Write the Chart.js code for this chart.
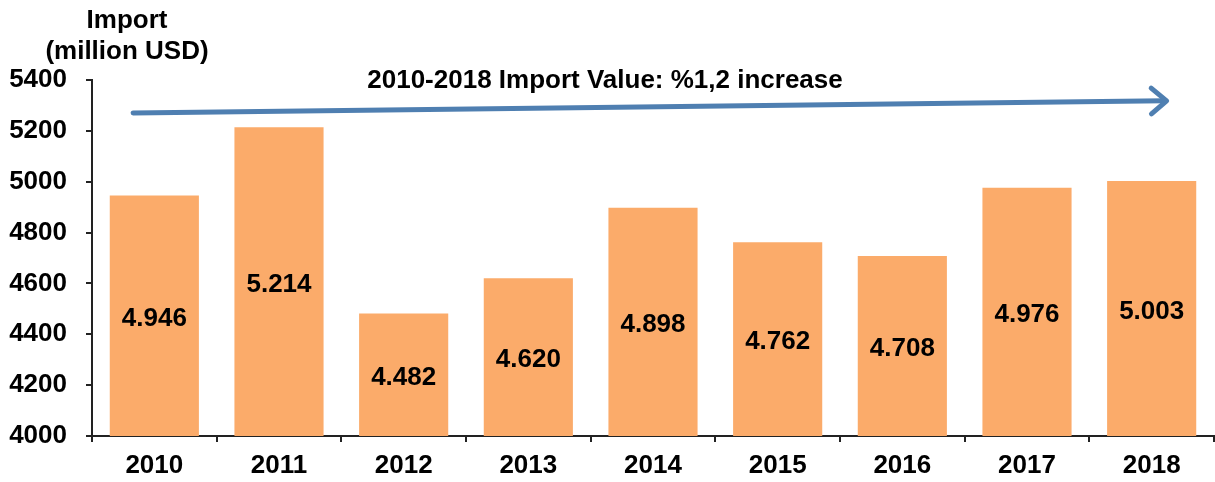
<!DOCTYPE html>
<html>
<head>
<meta charset="utf-8">
<script src="https://cdn.jsdelivr.net/npm/chart.js@4/dist/chart.umd.min.js"></script>
<style>
  html, body { margin: 0; padding: 0; background: #fff; }
  #wrap { width: 1215px; height: 482px; }
</style>
</head>
<body>
<div id="wrap"><canvas id="chart"></canvas></div>
<script>
// Import values (million USD), 2010-2018
const years   = ['2010', '2011', '2012', '2013', '2014', '2015', '2016', '2017', '2018'];
const imports = [4946, 5214, 4482, 4620, 4898, 4762, 4708, 4976, 5003];

const yTicks    = [4000, 4200, 4400, 4600, 4800, 5000, 5200, 5400];
const axisTitle = ['Import', '(million USD)'];
const trendText = '2010-2018 Import Value: %1,2 increase';
// trend arrow: [category index, value]
const arrowFrom = [-0.17, 5270];
const arrowTo   = [8.12, 5318];

const FONT = '"Liberation Sans", Arial, sans-serif';
const BAR  = '#fbab6a';
const BLUE = '#4f7fb1';
const INK  = '#000';

const fmt = v => (v / 1000).toFixed(3);

// values in the middle of each bar + the trend arrow and the titles
const decorations = {
  id: 'decorations',
  afterDatasetsDraw(chart) {
    const { ctx, scales: { x, y }, chartArea } = chart;
    ctx.save();

    ctx.font = `bold 26px ${FONT}`;
    ctx.fillStyle = INK;
    ctx.textAlign = 'center';
    ctx.textBaseline = 'middle';
    imports.forEach((v, i) => {
      const cy = (y.getPixelForValue(v) + y.getPixelForValue(yTicks[0])) / 2 + 3;
      ctx.fillText(fmt(v), x.getPixelForValue(i), cy);
    });

    // arrow
    const step = x.getPixelForValue(1) - x.getPixelForValue(0);
    const x0 = x.getPixelForValue(0) + arrowFrom[0] * step;
    const x1 = x.getPixelForValue(0) + arrowTo[0] * step;
    const y0 = y.getPixelForValue(arrowFrom[1]);
    const y1 = y.getPixelForValue(arrowTo[1]);
    const ang = Math.atan2(y1 - y0, x1 - x0);
    ctx.strokeStyle = BLUE;
    ctx.lineWidth = 5;
    ctx.lineCap = 'round';
    ctx.lineJoin = 'round';
    ctx.beginPath();
    ctx.moveTo(x0, y0);
    ctx.lineTo(x1 - 2, y1);
    ctx.stroke();
    ctx.beginPath();
    ctx.moveTo(x1 - 20 * Math.cos(ang - 0.7), y1 - 20 * Math.sin(ang - 0.7));
    ctx.lineTo(x1, y1);
    ctx.lineTo(x1 - 20 * Math.cos(ang + 0.7), y1 - 20 * Math.sin(ang + 0.7));
    ctx.stroke();

    // trend label
    ctx.fillStyle = INK;
    ctx.fillText(trendText, (chartArea.left + chartArea.right) / 2 - 48, y.getPixelForValue(5400) + 1);

    // axis title
    ctx.fillText(axisTitle[0], 127, 21);
    ctx.fillText(axisTitle[1], 127, 52);

    ctx.restore();
  }
};

new Chart(document.getElementById('chart'), {
  type: 'bar',
  data: {
    labels: years,
    datasets: [{
      data: imports,
      backgroundColor: BAR,
      borderWidth: 0,
      categoryPercentage: 0.715,
      barPercentage: 1,
    }],
  },
  options: {
    responsive: true,
    maintainAspectRatio: false,
    animation: false,
    layout: { padding: { top: 80, right: 1, left: 0, bottom: 0 } },
    plugins: {
      legend: { display: false },
      tooltip: { enabled: false },
    },
    scales: {
      x: {
        grid: { display: true, drawOnChartArea: false, tickLength: 6, color: '#222', lineWidth: 2 },
        border: { display: true, color: '#222', width: 2 },
        ticks: { color: INK, font: { family: FONT, size: 26, weight: 'bold' }, padding: 8, maxRotation: 0 },
        afterFit: s => { s.height = 46; },
      },
      y: {
        min: 4000,
        max: 5400,
        afterBuildTicks: s => { s.ticks = yTicks.map(v => ({ value: v })); },
        grid: { display: true, drawOnChartArea: false, tickLength: 6, color: '#222', lineWidth: 2 },
        border: { display: true, color: '#222', width: 2 },
        ticks: {
          color: INK,
          font: { family: FONT, size: 26, weight: 'bold' },
          padding: 19,
          callback: v => String(v),
        },
        afterFit: s => { s.width = 92; },
      },
    },
  },
  plugins: [decorations],
});
</script>
</body>
</html>
